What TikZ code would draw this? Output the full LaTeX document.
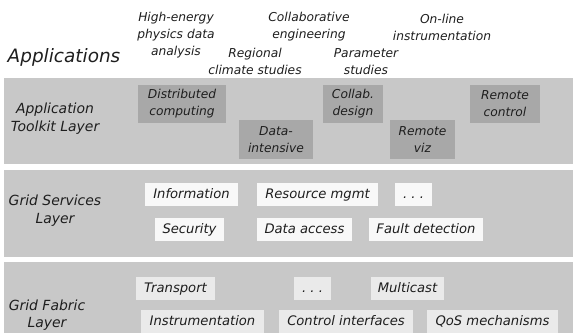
\documentclass[tikz,border=0pt]{standalone}
\usepackage{fontspec}
\setmainfont{DejaVu Sans}
\definecolor{bandgray}{RGB}{200,200,200}
\definecolor{toolgray}{RGB}{168,168,168}
\definecolor{svcwhite}{RGB}{248,248,248}
\definecolor{fabgray}{RGB}{234,234,234}
\definecolor{ink}{RGB}{30,30,30}
\begin{document}
\begin{tikzpicture}[
  x=1bp, y=-1bp,
  band/.style={fill=bandgray, draw=none},
  layer/.style={align=center, text=ink, inner sep=0pt,
                font=\itshape\fontsize{14}{18}\selectfont},
  app/.style={align=center, text=ink, inner sep=0pt,
              font=\itshape\fontsize{12.3}{17}\selectfont},
  tool/.style={fill=toolgray, align=center, text=ink, inner sep=0pt,
               minimum height=38bp,
               font=\itshape\fontsize{12.3}{17}\selectfont},
  svc/.style={fill=svcwhite, text=ink, inner sep=0pt, minimum height=23bp,
              text height=9.5bp, text depth=2.5bp,
              font=\itshape\fontsize{13.2}{16}\selectfont},
  fab/.style={svc, fill=fabgray}
]
  \useasboundingbox (0,0) rectangle (573,332);

  % Layer bands
  \fill[band] (4,78) rectangle (573,164);
  \fill[band] (4,170) rectangle (573,257);
  \fill[band] (4,262) rectangle (573,340);

  % Applications
  \node[text=ink, inner sep=0pt, font=\itshape\fontsize{18.5}{22}\selectfont]
    (apps) at (64,57) {Applications};
  \node[app] (hep) at (176,35) {High-energy\\physics data\\analysis};
  \node[app] (collabeng) at (309,27) {Collaborative\\engineering};
  \node[app] (online) at (442,27) {On-line\\instrumentation};
  \node[app] (climate) at (255,61.5) {Regional\\climate studies};
  \node[app] (param) at (366,61.5) {Parameter\\studies};

  % Application toolkit layer
  \node[layer] (tklayer) at (55,119) {Application\\Toolkit Layer};
  \node[tool, minimum width=88bp] (tk1) at (182,104) {Distributed\\computing};
  \node[tool, minimum width=74bp, minimum height=39bp] (tk2) at (276,139.5) {Data-\\intensive};
  \node[tool, minimum width=60bp] (tk3) at (353,104) {Collab.\\design};
  \node[tool, minimum width=65bp, minimum height=39bp] (tk4) at (422.5,139.5) {Remote\\viz};
  \node[tool, minimum width=70bp] (tk5) at (505,104) {Remote\\control};

  % Grid services layer
  \node[layer] (gslayer) at (55,210.5) {Grid Services\\Layer};
  \node[svc, minimum width=93bp] (gs1) at (191.5,194.5) {Information};
  \node[svc, minimum width=121bp] (gs2) at (317.5,194.5) {Resource mgmt};
  \node[svc, minimum width=37bp] (gs3) at (413.5,194.5) {.\ .\ .};
  \node[svc, minimum width=69bp] (gs4) at (189.5,229.5) {Security};
  \node[svc, minimum width=95bp] (gs5) at (304.5,229.5) {Data access};
  \node[svc, minimum width=114bp] (gs6) at (426,229.5) {Fault detection};

  % Grid fabric layer
  \node[layer, font=\itshape\fontsize{14}{17}\selectfont]
    (gflayer) at (47,315.5) {Grid Fabric\\Layer};
  \node[fab, minimum width=79bp] (gf1) at (175.5,288.5) {Transport};
  \node[fab, minimum width=37bp] (gf2) at (312.5,288.5) {.\ .\ .};
  \node[fab, minimum width=73bp] (gf3) at (407.5,288.5) {Multicast};
  \node[fab, minimum width=123bp] (gf4) at (202.5,321.5) {Instrumentation};
  \node[fab, minimum width=134bp] (gf5) at (346,321.5) {Control interfaces};
  \node[fab, minimum width=131bp] (gf6) at (492.5,321.5) {QoS mechanisms};
\end{tikzpicture}
\end{document}
